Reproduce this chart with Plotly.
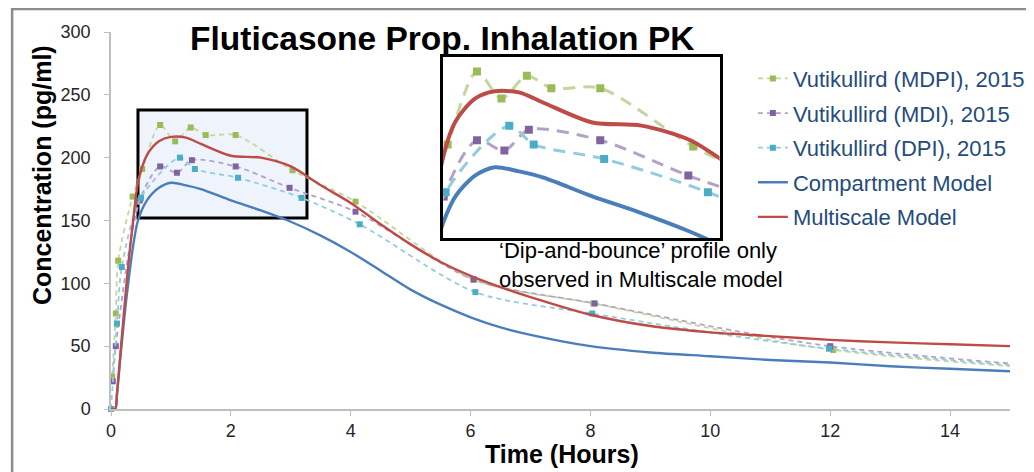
import plotly.graph_objects as go

# observed data (time in hours, concentration in pg/ml)
mdpi_t = [0.02, 0.08, 0.12, 0.36, 0.52, 0.82, 1.07, 1.33, 1.58, 2.08, 3.03, 4.08, 6.05, 8.05, 12.05, 24]
mdpi_c = [26, 76, 118, 169, 191, 226, 213, 224, 218, 218, 190, 165, 103, 84, 47, 8]

mdi_t = [0.03, 0.08, 0.48, 0.82, 1.1, 1.35, 2.08, 2.98, 4.08, 6.05, 8.07, 12.0, 24]
mdi_c = [22, 50, 166, 193, 188, 198, 193, 176, 157, 103, 84, 50, 6]

dpi_t = [0.0, 0.1, 0.18, 0.5, 1.15, 1.4, 2.12, 3.18, 4.15, 6.08, 8.03, 11.98, 24]
dpi_c = [0, 68, 113, 168, 200, 191, 184, 168, 147, 93, 76, 48, 4]

# model curves
model_t = [0, 0.07, 0.1, 0.15, 0.2, 0.25, 0.3, 0.37, 0.45, 0.6, 0.8, 1.0, 1.25, 1.5, 2.0, 2.5,
           3.0, 3.5, 4.0, 4.5, 5.0, 5.5, 6.0, 6.5, 7.0, 8.0, 9.0, 10.0, 11.0, 12.0, 13.0, 14.0, 15.0]
compartment_c = [0, 0, 12, 38, 62, 85, 105, 130, 150, 166, 176, 180, 178, 175, 166, 158,
                 149, 138, 125, 110, 95, 83, 73, 65, 59, 50, 45, 42, 39, 37, 34, 32, 30]
multiscale_c = [0, 0, 12, 40, 68, 95, 120, 150, 180, 202, 213, 216.5, 216, 211, 201.5, 200,
                193, 178, 164, 147, 131, 117, 106, 97, 89, 75, 66, 61, 58, 55, 53, 51.5, 50]

series = [
    ("Vutikullird (MDPI), 2015", mdpi_t, mdpi_c, "#9bbb59", "#c3d69b", True),
    ("Vutikullird (MDI), 2015", mdi_t, mdi_c, "#8064a2", "#b3a2c7", True),
    ("Vutikullird (DPI), 2015", dpi_t, dpi_c, "#4bacc6", "#93cddd", True),
    ("Compartment Model", model_t, compartment_c, "#4a7ebb", "#4a7ebb", False),
    ("Multiscale Model", model_t, multiscale_c, "#be4b48", "#be4b48", False),
]

fig = go.Figure()

# main chart
for name, t, c, mcol, lcol, is_data in series:
    if is_data:
        fig.add_trace(go.Scatter(
            x=t, y=c, name=name, mode="lines+markers", legendgroup=name,
            line=dict(color=lcol, width=1.8, dash="5px,4px", shape="spline", smoothing=0.8),
            marker=dict(color=mcol, size=6, symbol="square"), cliponaxis=False))
    else:
        fig.add_trace(go.Scatter(
            x=t, y=c, name=name, mode="lines", legendgroup=name,
            line=dict(color=lcol, width=2.4, shape="spline", smoothing=0.8)))

# zoomed inset
for name, t, c, mcol, lcol, is_data in series:
    if is_data:
        fig.add_trace(go.Scatter(
            x=t, y=c, mode="lines+markers", showlegend=False, xaxis="x2", yaxis="y2",
            line=dict(color=lcol, width=3, dash="12px,8px", shape="spline", smoothing=0.8),
            marker=dict(color=mcol, size=8, symbol="square")))
    else:
        fig.add_trace(go.Scatter(
            x=t, y=c, mode="lines", showlegend=False, xaxis="x2", yaxis="y2",
            line=dict(color=lcol, width=4, shape="spline", smoothing=0.8)))

axis_style = dict(showline=True, linecolor="#bfbfbf", linewidth=1.5, ticks="outside",
                  ticklen=5, tickcolor="#bfbfbf", showgrid=False, zeroline=False,
                  tickfont=dict(size=18, color="#262626"))

# the page puts the figure 8px in from the top-left corner and fits it to the body width
fig.update_layout(
    width=1034, height=472,
    margin=dict(l=103, r=16, t=24, b=71),
    paper_bgcolor="white", plot_bgcolor="white",
    font=dict(family="Liberation Sans, Arial, sans-serif"),
    xaxis=dict(range=[0, 15], tickvals=[0, 2, 4, 6, 8, 10, 12, 14], ticklabelstandoff=0, **axis_style),
    yaxis=dict(range=[0, 300], dtick=50, ticklabelstandoff=10, **axis_style),
    xaxis2=dict(domain=[0.369, 0.677], anchor="y2", range=[0.47, 3.3], showline=True, mirror=True,
                linecolor="black", linewidth=3, showticklabels=False, ticks="", showgrid=False,
                zeroline=False),
    yaxis2=dict(domain=[0.4536, 0.9337], anchor="x2", range=[146, 233], showline=True, mirror=True,
                linecolor="black", linewidth=3, showticklabels=False, ticks="", showgrid=False,
                zeroline=False),
    legend=dict(x=0.714, y=0.932, xanchor="left", yanchor="top", bgcolor="rgba(0,0,0,0)",
                font=dict(size=22, color="#254b7c"), tracegroupgap=3),
    showlegend=True,
)

# highlighted region in the main chart
fig.add_shape(type="rect", xref="x", yref="y", x0=0.45, x1=3.27, y0=152, y1=238,
              fillcolor="#eef3fc", line=dict(color="black", width=3), layer="below")
# outer chart frame
fig.add_shape(type="rect", xref="paper", yref="paper", x0=-0.11, x1=1.1, y0=-0.3, y1=1.061,
              line=dict(color="#8c8c8c", width=2.5), fillcolor="rgba(0,0,0,0)")

fig.add_annotation(text="<b>Fluticasone Prop. Inhalation PK</b>", xref="paper", yref="paper",
                   x=0.368, y=0.983, xanchor="center", yanchor="middle", showarrow=False,
                   font=dict(size=33.5, color="black"))
fig.add_annotation(text="<b>Concentration (pg/ml)</b>", xref="paper", yref="paper",
                   x=-0.077, y=0.62, textangle=-90, xanchor="center", yanchor="middle",
                   showarrow=False, font=dict(size=25, color="black"))
fig.add_annotation(text="<b>Time (Hours)</b>", xref="paper", yref="paper",
                   x=0.502, y=-0.119, xanchor="center", yanchor="middle", showarrow=False,
                   font=dict(size=25, color="black"))
fig.add_annotation(text="\u2018Dip-and-bounce\u2019 profile only<br>observed in Multiscale model",
                   xref="paper", yref="paper", x=0.429, y=0.382, xanchor="left", yanchor="middle",
                   align="left", showarrow=False, font=dict(size=22, color="black"))

fig.write_html("out.html")
